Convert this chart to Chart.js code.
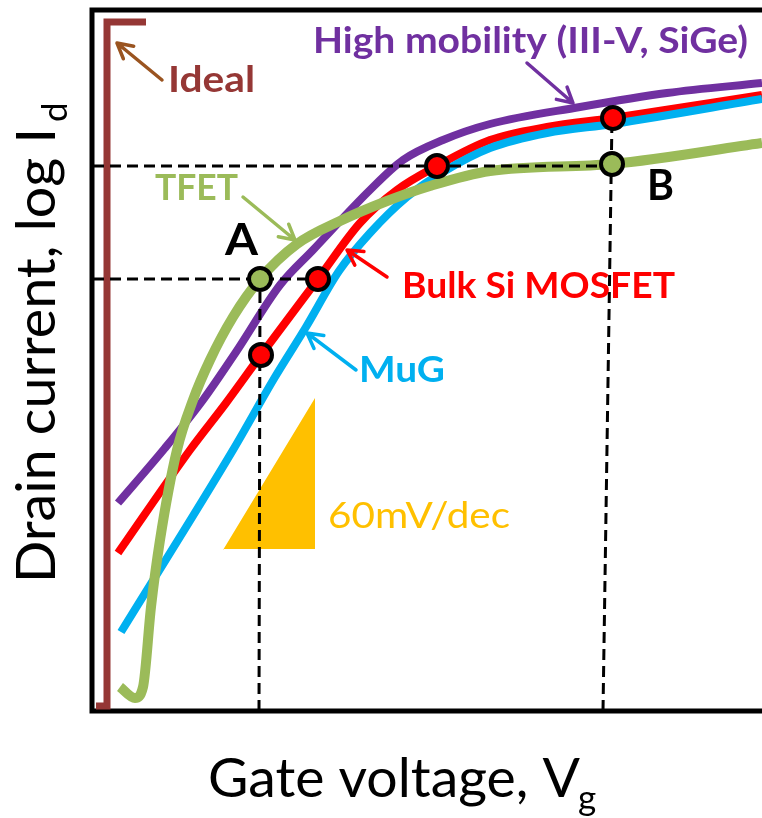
<!DOCTYPE html>
<html>
<head>
<meta charset="utf-8">
<script src="https://cdn.jsdelivr.net/npm/chart.js@4.4.0/dist/chart.umd.min.js"></script>
<style>
  html, body { margin: 0; padding: 0; background: #fff; }
  canvas { display: block; }
</style>
</head>
<body>
<canvas id="ivChart" width="762" height="818"></canvas>
<script>
// Schematic Id-Vg curves: x = gate voltage, y = log drain current (arbitrary units)
const idealVg = [0.03, 0.14, 0.14, 0.53];
const idealId = [0.06, 0.06, 6.90, 6.90];

const highMobVg = [0.25, 0.72, 1.10, 1.43, 1.87, 2.20, 2.77, 3.10, 3.50, 3.97, 4.87, 5.74, 6.69];
const highMobId = [2.09, 2.64, 3.12, 3.60, 4.27, 4.62, 5.22, 5.52, 5.72, 5.88, 6.05, 6.19, 6.29];

const bulkVg = [0.25, 0.97, 1.33, 1.68, 2.25, 2.67, 3.04, 3.44, 3.97, 4.54, 5.20, 6.69];
const bulkId = [1.59, 2.62, 3.09, 3.57, 4.33, 4.89, 5.22, 5.46, 5.72, 5.85, 5.94, 6.17];

const mugVg = [0.28, 1.40, 1.82, 2.13, 2.46, 2.77, 3.14, 3.50, 3.97, 4.54, 5.20, 6.69];
const mugId = [0.80, 2.62, 3.35, 3.85, 4.41, 4.79, 5.15, 5.40, 5.64, 5.79, 5.88, 6.13];

const tfetVg = [0.27, 0.42, 0.50, 0.58, 0.67, 0.84, 1.00, 1.17, 1.40, 1.67, 2.04, 2.47, 2.94, 3.37, 3.97, 5.19, 6.69];
const tfetId = [0.25, 0.14, 0.25, 1.05, 1.72, 2.62, 3.12, 3.52, 3.95, 4.33, 4.68, 4.91, 5.11, 5.26, 5.41, 5.48, 5.69];

// operating points on the curves
const redDotVg = [1.68, 2.25, 3.44, 5.20];
const redDotId = [3.57, 4.33, 5.46, 5.94];
const greenDotVg = [1.67, 5.19];
const greenDotId = [4.33, 5.48];

// guide lines through points A and B
const guideAVg = [0, 2.25, null, 1.66, 1.67];
const guideAId = [4.33, 4.33, null, 0.01, 4.33];
const guideBVg = [0, 5.19, null, 5.10, 5.19];
const guideBId = [5.46, 5.46, null, 0.01, 5.94];

// 60 mV/dec slope triangle
const slopeVg = [1.30, 2.22, 2.22];
const slopeId = [1.62, 3.14, 1.64];

const pts = (xs, ys) => xs.map((x, i) => (x === null ? { x: NaN, y: NaN } : { x: x, y: ys[i] }));

const PURPLE = '#7030a0', RED = '#ff0000', BLUE = '#00b0f0', GREEN = '#9bbb59',
      BROWN = '#953735', GOLD = '#ffc000';

// callouts: [text, x, y (data units, left/baseline), font, colour, width px]
const labels = [
  ['Ideal', 0.75, 6.20, 'bold 37px Lato', BROWN, 87],
  ['High mobility (III-V, SiGe)', 2.20, 6.59, 'bold 36px Lato', PURPLE, 435],
  ['TFET', 0.62, 5.12, 'bold 36px Lato', GREEN, 83],
  ['A', 1.32, 4.57, 'bold 44px Lato', '#000', 33],
  ['B', 5.54, 5.12, 'bold 42px Lato', '#000', 27],
  ['Bulk Si MOSFET', 3.09, 4.14, 'bold 36px Lato', RED, 273],
  ['MuG', 2.66, 3.30, 'bold 37px Lato', BLUE, 86],
  ['60mV/dec', 2.35, 1.84, '37px Lato', GOLD, 182]
];

// arrows: [tailX, tailY, tipX, tipY, colour]
const arrows = [
  [0.69, 6.32, 0.24, 6.69, '#9a5420'],
  [4.34, 6.49, 4.80, 6.09, PURPLE],
  [1.50, 5.15, 2.02, 4.72, GREEN],
  [2.94, 4.35, 2.54, 4.62, RED],
  [2.63, 3.42, 2.14, 3.79, BLUE]
];

function drawText(ctx, str, x, y, font, color, width) {
  ctx.save();
  ctx.font = font;
  const w = ctx.measureText(str).width;
  ctx.translate(x, y);
  if (width) ctx.scale(width / w, 1);
  ctx.fillStyle = color;
  ctx.textBaseline = 'alphabetic';
  ctx.textAlign = 'left';
  ctx.fillText(str, 0, 0);
  ctx.restore();
}

function drawArrow(ctx, x0, y0, x1, y1, color) {
  const ang = Math.atan2(y1 - y0, x1 - x0);
  const head = 17, spread = 0.5;
  ctx.save();
  ctx.strokeStyle = color;
  ctx.lineWidth = 3.5;
  ctx.lineCap = 'round';
  ctx.lineJoin = 'round';
  ctx.beginPath();
  ctx.moveTo(x0, y0);
  ctx.lineTo(x1, y1);
  ctx.moveTo(x1 - head * Math.cos(ang - spread), y1 - head * Math.sin(ang - spread));
  ctx.lineTo(x1, y1);
  ctx.lineTo(x1 - head * Math.cos(ang + spread), y1 - head * Math.sin(ang + spread));
  ctx.stroke();
  ctx.restore();
}

const frameAndText = {
  id: 'frameAndText',
  beforeDatasetsDraw(chart) {
    const ctx = chart.ctx, a = chart.chartArea;
    ctx.save();
    ctx.strokeStyle = '#000';
    ctx.lineWidth = 5;
    ctx.lineCap = 'square';
    ctx.beginPath();
    ctx.moveTo(a.right + 5, a.top);
    ctx.lineTo(a.left, a.top);
    ctx.lineTo(a.left, a.bottom);
    ctx.lineTo(a.right + 5, a.bottom);
    ctx.stroke();
    ctx.restore();
  },
  afterDraw(chart) {
    const ctx = chart.ctx, a = chart.chartArea;
    const sx = chart.scales.x, sy = chart.scales.y;
    arrows.forEach(([x0, y0, x1, y1, c]) => {
      drawArrow(ctx, sx.getPixelForValue(x0), sy.getPixelForValue(y0),
        sx.getPixelForValue(x1), sy.getPixelForValue(y1), c);
    });
    labels.forEach(([t, x, y, f, c, w]) => {
      drawText(ctx, t, sx.getPixelForValue(x), sy.getPixelForValue(y), f, c, w);
    });

    // x axis title
    drawText(ctx, 'Gate voltage, V', a.left + 116, a.bottom + 86, '55px Lato', '#000', 372);
    drawText(ctx, 'g', a.left + 486, a.bottom + 99, '35px Lato', '#000');

    // y axis title, rotated
    ctx.save();
    ctx.translate(55, a.bottom - 128);
    ctx.rotate(-Math.PI / 2);
    drawText(ctx, 'Drain current, log I', 0, 0, '55px Lato', '#000', 455);
    drawText(ctx, 'd', 461, 12, '35px Lato', '#000');
    ctx.restore();
  }
};

function curve(label, xs, ys, color, width, order) {
  return {
    label: label,
    data: pts(xs, ys),
    showLine: true,
    borderColor: color,
    borderWidth: width,
    pointRadius: 0,
    cubicInterpolationMode: 'monotone',
    borderCapStyle: 'butt',
    order: order
  };
}

function guide(label, xs, ys) {
  return {
    label: label,
    data: pts(xs, ys),
    showLine: true,
    spanGaps: false,
    borderColor: '#000',
    borderWidth: 3,
    borderDash: [11, 6],
    pointRadius: 0,
    tension: 0,
    order: 1
  };
}

function dots(label, xs, ys, fill) {
  return {
    label: label,
    data: pts(xs, ys),
    showLine: false,
    pointRadius: 11,
    pointBackgroundColor: fill,
    pointBorderColor: '#000',
    pointBorderWidth: 4,
    order: 0
  };
}

function build() {
  new Chart(document.getElementById('ivChart'), {
    type: 'scatter',
    data: {
      datasets: [
        dots('Bulk Si points', redDotVg, redDotId, RED),
        dots('TFET points', greenDotVg, greenDotId, GREEN),
        guide('A', guideAVg, guideAId),
        guide('B', guideBVg, guideBId),
        {
          label: 'Ideal',
          data: pts(idealVg, idealId),
          showLine: true,
          borderColor: BROWN,
          borderWidth: 7,
          borderJoinStyle: 'miter',
          pointRadius: 0,
          tension: 0,
          order: 2
        },
        curve('TFET', tfetVg, tfetId, GREEN, 10, 3),
        curve('High mobility', highMobVg, highMobId, PURPLE, 8, 4),
        curve('MuG', mugVg, mugId, BLUE, 8, 5),
        curve('Bulk Si MOSFET', bulkVg, bulkId, RED, 8, 6),
        {
          label: '60mV/dec',
          data: pts(slopeVg, slopeId),
          showLine: true,
          borderWidth: 0,
          borderColor: GOLD,
          backgroundColor: GOLD,
          fill: { value: 1.63 },
          pointRadius: 0,
          tension: 0,
          order: 7
        }
      ]
    },
    options: {
      responsive: false,
      animation: false,
      layout: { autoPadding: false, padding: { left: 92, top: 10, right: 0, bottom: 107 } },
      plugins: { legend: { display: false }, tooltip: { enabled: false } },
      scales: {
        x: { type: 'linear', display: false, min: -0.01, max: 6.69 },
        y: { type: 'linear', display: false, min: 0.01, max: 7.02 }
      }
    },
    plugins: [frameAndText]
  });
}

Promise.all([
  document.fonts.load('bold 36px Lato'),
  document.fonts.load('36px Lato')
]).then(build, build);
</script>
</body>
</html>
